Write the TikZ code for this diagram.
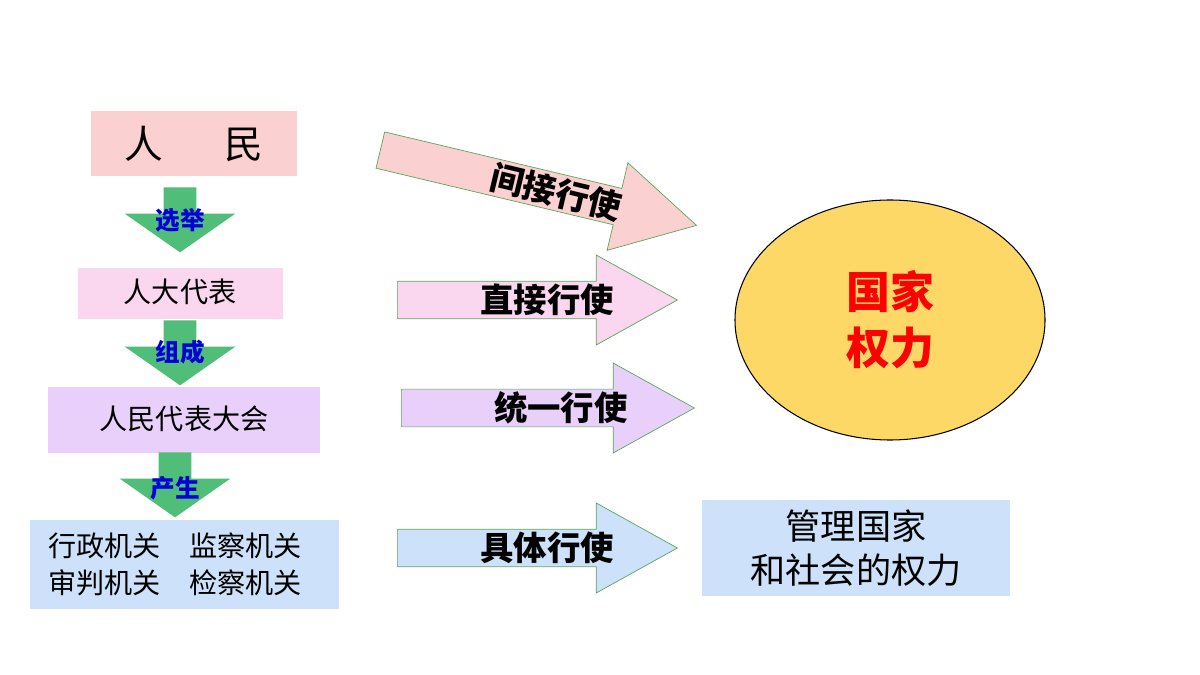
\documentclass[tikz,border=0pt]{standalone}
\usepackage{fontspec}
\setmainfont{Noto Sans CJK SC}
\usetikzlibrary{shapes.arrows,shapes.geometric}
\definecolor{pinkA}{RGB}{250,208,208}
\definecolor{pinkB}{RGB}{250,215,238}
\definecolor{lilac}{RGB}{233,208,250}
\definecolor{skyb}{RGB}{205,226,250}
\definecolor{greenA}{RGB}{80,190,120}
\definecolor{goldA}{RGB}{253,216,102}
\begin{document}
\begin{tikzpicture}[x=0.02cm,y=-0.02cm,
        mybox/.style={draw=none,inner sep=0pt,font=\fontsize{16}{21}\selectfont},
        downarrow/.style={single arrow,fill=greenA,draw=none,rotate=-90,anchor=tail,
            minimum height=65*0.02cm,
            single arrow head extend=0.78cm,single arrow tip angle=110,inner sep=0pt},
        steplabel/.style={text=blue!85!black,font=\bfseries\fontsize{14}{16}\selectfont},
        fatarrow/.style={single arrow,draw=gray!70!green,line width=0.4pt,inner sep=0pt,
            anchor=tail,minimum width=90*0.02cm,single arrow head extend=23*0.02cm,
            single arrow tip angle=58,font=\bfseries\fontsize{19}{22}\selectfont}
        ]
        \useasboundingbox (0,0) rectangle (1200,675);
        % left column
        \fill[pinkA] (91,111) rectangle (297,176);
        \node[mybox,font=\fontsize{22}{26}\selectfont] (ppl) at (194,144) {人\hspace{1.6em}民};
        \node[downarrow] (d1) at (180,187) {\rule{0pt}{0.64cm}};
        \node[steplabel] (l1) at (180,220) {选举};
        \fill[pinkB] (78,268) rectangle (283,319);
        \node[mybox] (rep) at (180,292) {人大代表};
        \node[downarrow] (d2) at (180,320) {\rule{0pt}{0.64cm}};
        \node[steplabel] (l2) at (180,352) {组成};
        \fill[lilac] (48,387) rectangle (320,453);
        \node[mybox] (npc) at (184,419) {人民代表大会};
        \node[downarrow] (d3) at (175,452) {\rule{0pt}{0.64cm}};
        \node[steplabel] (l3) at (175,488) {产生};
        \fill[skyb] (30,520) rectangle (339,609);
        \node[mybox,align=left] (org) at (175,564) {行政机关\quad 监察机关\\审判机关\quad 检察机关};
        % right arrows
        \node[fatarrow,fill=pinkA,rotate=-13.4,minimum height=325*0.02cm] (a1) at (380,150) {\hspace{2.1em}间接行使\hspace{4.1em}};
        \node[fatarrow,fill=pinkB,minimum height=280*0.02cm] (a2) at (397,300) {\hspace{1.6em}直接行使\hspace{3.1em}};
        \node[fatarrow,fill=lilac,minimum height=293*0.02cm] (a3) at (401,408) {\hspace{1.8em}统一行使\hspace{3.1em}};
        \node[fatarrow,fill=skyb,minimum height=280*0.02cm] (a4) at (397,548) {\hspace{1.6em}具体行使\hspace{3.1em}};
        % power
        \node[ellipse,draw=black,line width=0.6pt,fill=goldA,minimum width=310*0.02cm,
            minimum height=240*0.02cm,align=center,text=red,
            font=\bfseries\fontsize{25}{32}\selectfont] (pow) at (890,320) {国家\\权力};
        \fill[skyb] (702,500) rectangle (1010,596);
        \node[mybox,align=center,font=\fontsize{20}{25}\selectfont] (mgmt) at (856,548) {管理国家\\和社会的权力};
\end{tikzpicture}
\end{document}
